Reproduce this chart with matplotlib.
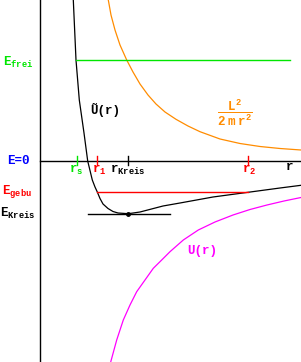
import numpy as np
import matplotlib
matplotlib.use("Agg")
import matplotlib.pyplot as plt

plt.rcParams['font.family'] = ['Liberation Mono', 'DejaVu Sans Mono']
plt.rcParams['font.weight'] = 'bold'
plt.rcParams['mathtext.fontset'] = 'custom'
plt.rcParams['mathtext.rm'] = 'Liberation Mono:bold'
plt.rcParams['mathtext.it'] = 'Liberation Mono:bold'
plt.rcParams['mathtext.bf'] = 'Liberation Mono:bold'

r_eff = [33.3, 36, 39.3, 44, 47.7, 52.3, 55, 57.3, 60, 63, 68, 73, 78, 88.3,
         100, 123, 140, 173, 208, 240, 261]
U_eff = [161, 101, 61, 28, 0, -19, -26, -31, -37.5, -43, -47.5, -50.5, -52, -52.7,
         -51, -45, -42, -36, -31.3, -27, -24.3]

r_zf = [68.3, 71, 75, 80, 86.7, 93, 100, 108, 116, 125, 136, 148, 160, 180,
        200, 220, 240, 261]
U_zf = [161, 146, 131, 116, 101, 89, 77, 66, 57, 49, 41.7, 35, 29.3, 22,
        17.5, 14.5, 12.5, 11]

r_U = [70.7, 76.7, 83.3, 90, 96.7, 105, 113.3, 121.7, 130, 143.3, 158.3,
       175, 193, 210, 227, 244, 261]
U_U = [-201, -179, -159, -144, -130.7, -119, -107.3, -99, -90.7, -79, -69,
       -61, -54, -48.5, -44, -40, -36.5]

# Energien und Radien
E_frei, E_gebu, E_kreis = 101, -31, -52.7
r_s, r_1, r_kreis, r_2 = 37, 57.3, 88.3, 207.5

fig = plt.figure(figsize=(3.01, 3.62), dpi=100)
ax = fig.add_axes([0, 0, 1, 1])
ax.set_xlim(-40, 261)
ax.set_ylim(-201, 161)
ax.axis('off')

# Achsen
ax.plot([0, 0], [-201, 161], color='black', lw=1.0)
ax.plot([0, 261], [0, 0], color='black', lw=1.0)

# Kurven
ax.plot(r_zf, U_zf, color='#ff8c00', lw=0.9)
ax.plot(r_U, U_U, color='#ff00ff', lw=0.9)
ax.plot(r_eff, U_eff, color='black', lw=0.9)

# Energieniveaus
ax.plot([r_s - 1, 250], [E_frei, E_frei], color='#00e600', lw=1.0)
ax.plot([r_1, r_2], [E_gebu, E_gebu], color='#ff0000', lw=1.0)
ax.plot([48, 130], [E_kreis, E_kreis], color='black', lw=1.0)
ax.plot([r_kreis], [E_kreis], 'o', color='black', ms=2.5)

# Markierungen auf der r-Achse
for rv, c in [(r_s, '#00e600'), (r_1, '#ff0000'), (r_kreis, 'black'), (r_2, '#ff0000')]:
    ax.plot([rv, rv], [-4, 5], color=c, lw=1.0)

fs = 9
ax.text(-37, 99, r'$E_{frei}$', color='#00e600', fontsize=fs, va='center', ha='left')
ax.text(-33, 0.5, 'E=0', color='#0000ff', fontsize=fs, va='center', ha='left')
ax.text(-38, -31, r'$E_{gebu}$', color='#ff0000', fontsize=fs, va='center', ha='left')
ax.text(-40, -52, r'$E_{Kreis}$', color='black', fontsize=fs, va='center', ha='left')

ax.text(29, -9, r'$r_s$', color='#00e600', fontsize=fs, va='center', ha='left')
ax.text(51.5, -9, r'$r_1$', color='#ff0000', fontsize=fs, va='center', ha='left')
ax.text(70, -9, r'$r_{Kreis}$', color='black', fontsize=fs, va='center', ha='left')
ax.text(202, -9, r'$r_2$', color='#ff0000', fontsize=fs, va='center', ha='left')
ax.text(246, -6, 'r', color='black', fontsize=fs, va='center', ha='left')

ax.text(50, 51, 'Ũ(r)', color='black', fontsize=fs, va='center', ha='left')
ax.text(147, -90, 'U(r)', color='#ff00ff', fontsize=fs, va='center', ha='left')
ax.text(195, 48, r'$\dfrac{L^2}{2\ m\ r^2}$', color='#ff8c00', fontsize=fs,
        va='center', ha='center')

fig.savefig('out.png', dpi=100)
